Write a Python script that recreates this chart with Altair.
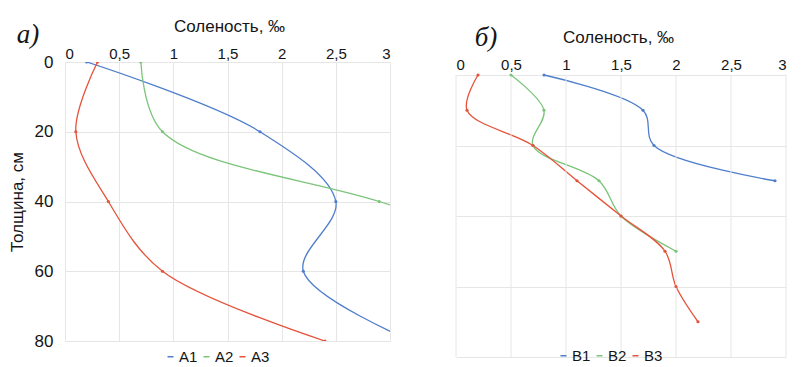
import altair as alt
import pandas as pd

# ---- data ----
depth_a = [0, 20, 40, 60, 80]
a1 = [0.2, 1.8, 2.5, 2.2, 3.2]
a2 = [0.7, 0.9, 2.9, 5.0]          # last point lies beyond the 3 ‰ edge
a3 = [0.3, 0.1, 0.4, 0.9, 2.4]

depth_b = [0, 10, 20, 30, 40, 50, 60, 70]
b1 = [0.8, 1.7, 1.8, 2.9]
b2 = [0.5, 0.8, 0.7, 1.3, 1.5, 2.0]
b3 = [0.2, 0.1, 0.7, 1.1, 1.5, 1.9, 2.0, 2.2]

x_ticks = [0, 0.5, 1, 1.5, 2, 2.5, 3]
y_ticks = [0, 20, 40, 60, 80]
names_a = ["A1", "A2", "A3"]
names_b = ["B1", "B2", "B3"]
colors = ["#4f7fcb", "#7cc47a", "#e5533a"]

FONT = "Liberation Sans, Arial, sans-serif"
TXT = "#151515"
GRID = "#e6e6e6"


def long_df(depths, series, names):
    rows = []
    for name, vals in zip(names, series):
        for d, v in zip(depths, vals):
            rows.append({"series": name, "depth": d, "sal": v})
    return pd.DataFrame(rows)


df_a = long_df(depth_a, [a1, a2, a3], names_a)
df_b = long_df(depth_b, [b1, b2, b3], names_b)

comma = "replace(toString(datum.value), '.', ',')"


def panel(df, names, w, h, top, show_y, title_x, title_y, lab_pad, leg_x, leg_y,
          letter, let_x, let_y, anchor):
    # top: pixel offset of depth 0 inside the panel
    xaxis = alt.Axis(
        orient="top", values=x_ticks, title="Соленость, ‰",
        labelExpr=comma, labelFontSize=15, labelColor=TXT, labelFont=FONT,
        labelPadding=lab_pad, ticks=False, domain=False,
        grid=(top == 0), gridColor=GRID, offset=-top,
        titleFont=FONT, titleFontSize=17, titleFontWeight="normal",
        titleColor=TXT, titleX=title_x, titleY=title_y,
        titleBaseline="alphabetic", titleAlign="center",
    )
    xenc = alt.X("sal:Q", scale=alt.Scale(domain=[0, 3], nice=False), axis=xaxis)
    if show_y:
        yaxis = alt.Axis(
            values=y_ticks, title="Толщина, см", labelFontSize=17,
            labelColor=TXT, labelFont=FONT, labelPadding=12, ticks=False,
            domain=False, grid=True, gridColor=GRID,
            titleFont=FONT, titleFontSize=17, titleFontWeight="normal",
            titleColor=TXT, titleX=-48, titleBaseline="middle",
        )
    else:
        yaxis = alt.Axis(values=y_ticks, title=None, labels=False, ticks=False,
                         domain=False, grid=True, gridColor=GRID)
    yenc = alt.Y("depth:Q", scale=alt.Scale(domain=[0, 80], range=[top, h], nice=False),
                 axis=yaxis)
    cenc = alt.Color(
        "series:N",
        scale=alt.Scale(domain=names, range=colors),
        legend=alt.Legend(
            title=None, orient="none", legendX=leg_x, legendY=leg_y,
            direction="horizontal", columns=3, symbolType="stroke",
            symbolSize=36, symbolStrokeWidth=1.5, labelFont=FONT,
            labelFontSize=15, labelColor=TXT, labelOffset=1, columnPadding=1,
        ),
    )
    base = alt.Chart(df)
    layers = []
    if top != 0:
        vgrid = alt.Chart(alt.Data(values=[{"sal": v} for v in x_ticks])).mark_rule(
            color=GRID, strokeWidth=1).encode(
            x=alt.X("sal:Q"), y=alt.value(top), y2=alt.value(h))
        layers.append(vgrid)
    line = base.mark_line(interpolate="catmull-rom", clip=True, strokeWidth=1.3).encode(
        x=xenc, y=yenc, color=cenc, order="depth:Q")
    pts = base.mark_point(filled=True, size=10, opacity=1, clip=True).encode(
        x="sal:Q", y="depth:Q", color=alt.Color("series:N", legend=None))
    lab = alt.Chart(alt.Data(values=[{"t": letter}])).mark_text(
        font="Liberation Serif", fontStyle="italic", fontSize=27, color=TXT,
        align="center", baseline="middle").encode(
        x=alt.value(let_x), y=alt.value(let_y), text="t:N")
    layers = [line] + layers + [pts, lab]
    if anchor is not None:
        anc = alt.Chart(alt.Data(values=[{"t": "."}])).mark_text(
            opacity=0, baseline="top", align="left", fontSize=6).encode(
            x=alt.value(anchor[0]), y=alt.value(anchor[1]), text="t:N")
        layers.append(anc)
    return alt.layer(*layers).properties(width=w, height=h)


pa = panel(df_a, names_a, 325, 279, 0, True, 164, -31, 1, 98, 287,
           "а)", -37, -27, (-57, -54))
pb = panel(df_b, names_b, 330, 295, 13, False, 162, -33, 3, 100, 286,
           "б)", 30, -24, None)

chart = alt.hconcat(pa, pb, spacing=65).resolve_scale(color="independent").configure(
    padding={"left": 0, "top": 0, "right": 0, "bottom": 0}
).configure_view(stroke=None)

chart.save("out.html", embed_options={"renderer": "svg", "actions": False})
